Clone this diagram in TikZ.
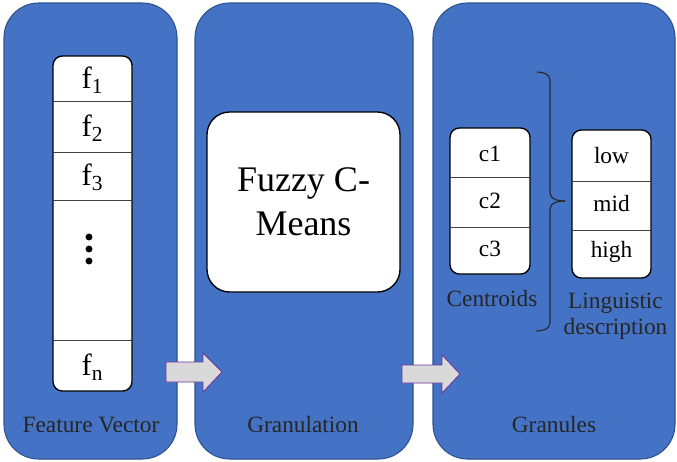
\documentclass[tikz,border=0pt]{standalone}
\usepackage{fontspec}
\setmainfont{LiberationSerif}[Extension=.ttf,UprightFont=*-Regular,BoldFont=*-Bold,ItalicFont=*-Italic,BoldItalicFont=*-BoldItalic]
\begin{document}
\begin{tikzpicture}[x=0.75pt,y=-0.75pt,
  panel/.style={fill=panelblue,draw=paneledge,line width=0.8pt,rounded corners=26pt},
  whitebox/.style={fill=white,draw=black,line width=1pt,rounded corners=7pt},
  divider/.style={draw=black!75,line width=0.6pt},
  bigarrow/.style={fill=arrowgray,draw=arrowedge,line width=0.6pt},
  lbl/.style={font=\rmfamily\fontsize{17.5}{19.5}\selectfont,text=black!85},
  cell/.style={font=\rmfamily\fontsize{17.5}{19}\selectfont},
  fcell/.style={font=\rmfamily\fontsize{23}{25}\selectfont}]
\definecolor{panelblue}{HTML}{4472C4}
\definecolor{paneledge}{HTML}{2F528F}
\definecolor{arrowgray}{HTML}{D9D9D9}
\definecolor{arrowedge}{HTML}{7030A0}
\useasboundingbox (0,0) rectangle (677,461);
% panels
\path[panel] (4,3) rectangle (177,459);
\path[panel] (195,3) rectangle (413,459);
\path[panel] (433,3) rectangle (675,459);
% arrows
\path[bigarrow] (166,362) -- (203,362) -- (203,353) -- (222,372) -- (203,392) -- (203,382) -- (166,382) -- cycle;
\path[bigarrow] (402,365) -- (442,365) -- (442,355) -- (460,374) -- (442,393) -- (442,383) -- (402,383) -- cycle;
% feature vector
\node[whitebox,minimum width=79*0.75pt,minimum height=335*0.75pt,inner sep=0pt] (fv) at (92.5,223.5) {};
\draw[divider] (53,101) -- (132,101);
\draw[divider] (53,152) -- (132,152);
\draw[divider] (53,200) -- (132,200);
\draw[divider] (53,340) -- (132,340);
\node[fcell] (f1) at (92.5,80) {f\textsubscript{1}};
\node[fcell] (f2) at (92.5,128) {f\textsubscript{2}};
\node[fcell] (f3) at (92.5,177) {f\textsubscript{3}};
\fill (89,237) circle (2.6pt) (89,249) circle (2.6pt) (89,261) circle (2.6pt);
\node[fcell] (fn) at (92.5,367) {f\textsubscript{n}};
\node[lbl] (fvl) at (91,425) {Feature Vector};
% fuzzy c-means
\node[whitebox,rounded corners=17pt,minimum width=193*0.75pt,minimum height=180*0.75pt,inner sep=0pt,
  align=center,font=\rmfamily\fontsize{27}{33}\selectfont] (fcm) at (303.5,202) {Fuzzy C-\\Means};
\node[lbl] (gl) at (303,425) {Granulation};
% centroids
\node[whitebox,minimum width=80*0.75pt,minimum height=146*0.75pt,inner sep=0pt] (cb) at (490,201) {};
\draw[divider] (450,177) -- (530,177);
\draw[divider] (450,227) -- (530,227);
\node[cell] (c1) at (490,154) {c1};
\node[cell] (c2) at (490,201) {c2};
\node[cell] (c3) at (490,249) {c3};
\node[lbl] (cl) at (492,299) {Centroids};
% linguistic
\node[whitebox,minimum width=79*0.75pt,minimum height=148*0.75pt,inner sep=0pt] (lb) at (611.5,204) {};
\draw[divider] (572,181) -- (651,181);
\draw[divider] (572,230) -- (651,230);
\node[cell] (lo) at (611.5,156) {low};
\node[cell] (mi) at (611.5,204) {mid};
\node[cell] (hi) at (611.5,252) {high};
\node[lbl,align=center] (ll) at (615.5,316) {Linguistic\\description};
% brace
\draw[line width=0.8pt,black!85] (537,72) to[out=0,in=90] (550,80) -- (550,193) to[out=-90,in=180] (565,201);
\draw[line width=0.8pt,black!85] (536,331) to[out=0,in=-90] (550,323) -- (550,209) to[out=90,in=180] (565,201);
% panel 3 label
\node[lbl] (grl) at (554,425) {Granules};
\end{tikzpicture}
\end{document}
